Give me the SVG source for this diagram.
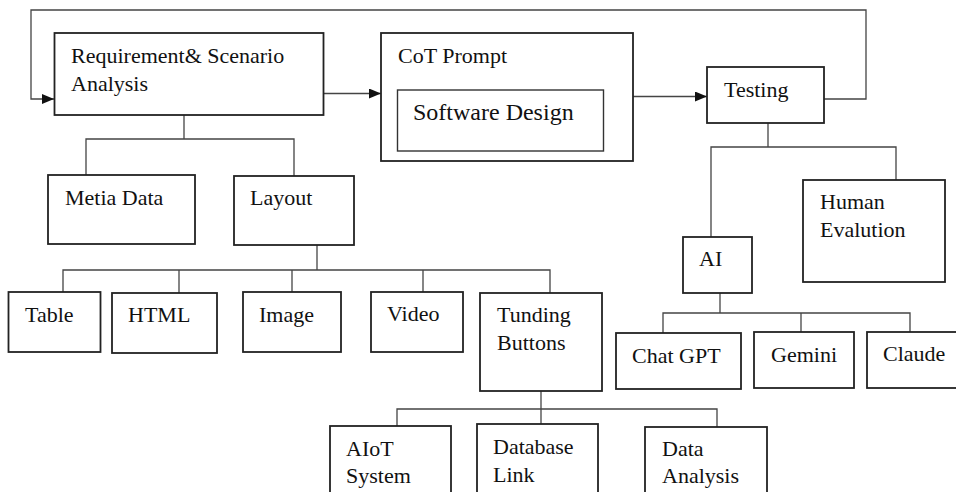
<svg xmlns="http://www.w3.org/2000/svg" width="956" height="492" viewBox="0 0 956 492">
  <style>
    .box { fill: #fff; stroke: #222; stroke-width: 1.8; }
    .inner { fill: #fff; stroke: #333; stroke-width: 1.4; }
    .link { fill: none; stroke: #444; stroke-width: 1.3; }
    text { font-family: 'Liberation Serif', 'DejaVu Serif', serif; font-size: 22px; fill: #111; }
    text.big { font-size: 24px; }
  </style>
  <defs>
    <marker id="arrow" viewBox="0 0 12 10" refX="12" refY="5" markerWidth="12" markerHeight="10" markerUnits="userSpaceOnUse" orient="auto">
      <path d="M0,0 L12,5 L0,10 Z" fill="#111"/>
    </marker>
  </defs>
  <rect width="956" height="492" fill="#fff"/>

  <!-- connectors -->
  <g id="connectors">
    <path class="link" d="M824 99 H866 V10 H31 V99 H54" marker-end="url(#arrow)"/>
    <path class="link" d="M324 93.5 H381" marker-end="url(#arrow)"/>
    <path class="link" d="M633 96.5 H707" marker-end="url(#arrow)"/>
    <!-- requirement branches -->
    <path class="link" d="M184 115 V139"/>
    <path class="link" d="M86 175 V139 H294 V176"/>
    <!-- layout branches -->
    <path class="link" d="M317 245 V270"/>
    <path class="link" d="M63 292 V270 H550 V293"/>
    <path class="link" d="M179 270 V293"/>
    <path class="link" d="M292 270 V292"/>
    <path class="link" d="M423 270 V292"/>
    <!-- testing branches -->
    <path class="link" d="M768 123 V147"/>
    <path class="link" d="M711 237 V147 H896 V180"/>
    <!-- AI branches -->
    <path class="link" d="M720 293 V313"/>
    <path class="link" d="M663 333 V313 H910 V332"/>
    <path class="link" d="M801 313 V332"/>
    <!-- tuning button branches -->
    <path class="link" d="M541 391 V424"/>
    <path class="link" d="M397 426 V409 H717 V427"/>
  </g>

  <g id="requirement">
    <rect class="box" x="54.5" y="33" width="269" height="82"/>
    <text x="71" y="63">Requirement&amp; Scenario</text>
    <text x="71" y="91">Analysis</text>
  </g>
  <g id="cot-prompt">
    <rect class="box" x="381" y="33" width="252" height="128"/>
    <text x="398" y="63">CoT Prompt</text>
  </g>
  <g id="software-design">
    <rect class="inner" x="397.5" y="90" width="206" height="61"/>
    <text class="big" x="413" y="120">Software Design</text>
  </g>
  <g id="testing">
    <rect class="box" x="707" y="67" width="117" height="56"/>
    <text x="724" y="97">Testing</text>
  </g>
  <g id="metia-data">
    <rect class="box" x="48" y="175" width="147" height="69"/>
    <text x="65" y="205">Metia Data</text>
  </g>
  <g id="layout">
    <rect class="box" x="234" y="176" width="120" height="69"/>
    <text x="250" y="205">Layout</text>
  </g>
  <g id="table">
    <rect class="box" x="8.5" y="292" width="92" height="60"/>
    <text x="25" y="322">Table</text>
  </g>
  <g id="html">
    <rect class="box" x="112" y="293" width="105" height="60"/>
    <text x="128" y="322">HTML</text>
  </g>
  <g id="image">
    <rect class="box" x="243" y="292" width="98" height="60"/>
    <text x="259" y="322">Image</text>
  </g>
  <g id="video">
    <rect class="box" x="371" y="292" width="92" height="60"/>
    <text x="387" y="321">Video</text>
  </g>
  <g id="tunding-buttons">
    <rect class="box" x="480" y="293" width="122" height="98"/>
    <text x="497" y="322">Tunding</text>
    <text x="497" y="350">Buttons</text>
  </g>
  <g id="ai">
    <rect class="box" x="683" y="237" width="69" height="56"/>
    <text x="699" y="266">AI</text>
  </g>
  <g id="human-evalution">
    <rect class="box" x="803" y="180" width="142" height="102"/>
    <text x="820" y="209">Human</text>
    <text x="820" y="237">Evalution</text>
  </g>
  <g id="chat-gpt">
    <rect class="box" x="616" y="333" width="125" height="56"/>
    <text x="632" y="363">Chat GPT</text>
  </g>
  <g id="gemini">
    <rect class="box" x="754" y="332" width="100" height="56"/>
    <text x="771" y="362">Gemini</text>
  </g>
  <g id="claude">
    <rect class="box" x="867" y="332" width="100" height="56"/>
    <text x="883" y="361">Claude</text>
  </g>
  <g id="aiot-system">
    <rect class="box" x="330" y="426" width="121" height="80"/>
    <text x="346" y="456">AIoT</text>
    <text x="346" y="483">System</text>
  </g>
  <g id="database-link">
    <rect class="box" x="477" y="424" width="121" height="80"/>
    <text x="493" y="454">Database</text>
    <text x="493" y="482">Link</text>
  </g>
  <g id="data-analysis">
    <rect class="box" x="645" y="427" width="122" height="80"/>
    <text x="662" y="456">Data</text>
    <text x="662" y="483">Analysis</text>
  </g>
</svg>
